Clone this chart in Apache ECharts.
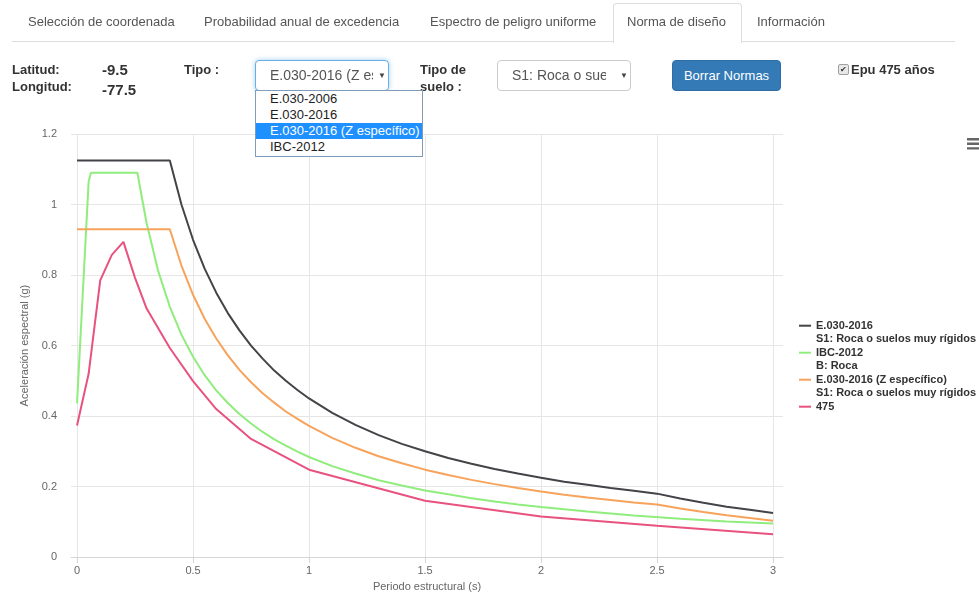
<!DOCTYPE html>
<html>
<head>
<meta charset="utf-8">
<script src="https://cdn.jsdelivr.net/npm/echarts@6/dist/echarts.min.js"></script>
<style>
  html, body { margin: 0; padding: 0; background: #fff; }
  body { width: 979px; height: 597px; position: relative; overflow: hidden;
         font-family: "Liberation Sans", Arial, sans-serif; color: #333; }
  #chart { position: absolute; left: 0; top: 0; width: 979px; height: 597px; }
  .a { position: absolute; white-space: nowrap; }
  .tabline { left: 12px; top: 41px; width: 943px; height: 0; border-top: 1px solid #ddd; }
  .tab { left: 613px; top: 3px; width: 127px; height: 39px; border: 1px solid #ddd; border-bottom: none;
         border-radius: 4px 4px 0 0; background: #fff; }
  .tt { top: 13px; line-height: 18px; font-size: 13px; color: #555; }
  .lb { font-size: 13px; font-weight: bold; line-height: 16px; color: #333; }
  .num { font-size: 15px; font-weight: bold; line-height: 18px; color: #333; }
  .sel { box-sizing: border-box; height: 31px; width: 134px; top: 60px; border: 1px solid #ccc; border-radius: 4px;
         background: #fff; font-size: 14px; color: #555; line-height: 29px; overflow: hidden; }
  .sel .txt { position: absolute; top: 0; overflow: hidden; white-space: nowrap; }
  .sel .arr { position: absolute; top: 0; font-size: 8px; color: #444; }
  .focus { border-color: #66afe9; box-shadow: 0 0 5px rgba(102,175,233,.6); }
  .btn { box-sizing: border-box; left: 672px; top: 60px; width: 109px; height: 31px; background: #337ab7;
         border: 1px solid #2e6da4; border-radius: 4px; color: #fff; font-size: 13px; line-height: 29px; text-align: center; }
  .chk { left: 838px; top: 64px; width: 9px; height: 9px; border: 1px solid #a0a0a0; background: #e8e8e8;
         border-radius: 2px; font-size: 8px; line-height: 9px; text-align: center; color: #333; }
  .dd { box-sizing: border-box; left: 255px; top: 90px; width: 168px; height: 67px; border: 1px solid #7f9db9;
        background: #fff; z-index: 10; }
  .dd div { height: 16px; line-height: 16px; font-size: 13px; color: #222; padding-left: 14px; white-space: nowrap; }
  .dd .hi { background: #1e90ff; color: #fff; }
</style>
</head>
<body>
<div id="chart"></div>

<div class="a tabline"></div>
<div class="a tab"></div>
<span class="a tt" style="left:28px">Selección de coordenada</span>
<span class="a tt" style="left:204px">Probabilidad anual de excedencia</span>
<span class="a tt" style="left:430px">Espectro de peligro uniforme</span>
<span class="a tt" style="left:627px">Norma de diseño</span>
<span class="a tt" style="left:757px">Información</span>

<span class="a lb" style="left:12px;top:62px">Latitud:</span>
<span class="a lb" style="left:12px;top:79px">Longitud:</span>
<span class="a num" style="left:102px;top:61px">-9.5</span>
<span class="a num" style="left:102px;top:81px">-77.5</span>
<span class="a lb" style="left:184px;top:62px">Tipo :</span>

<div class="a sel focus" style="left:255px">
  <span class="txt" style="left:14px;width:103px">E.030-2016 (Z específico)</span>
  <span class="arr" style="left:122px">&#9660;</span>
</div>

<span class="a lb" style="left:420px;top:62px">Tipo de</span>
<span class="a lb" style="left:420px;top:79px">suelo :</span>

<div class="a sel" style="left:497px">
  <span class="txt" style="left:14px;width:94px">S1: Roca o suelos muy rígidos</span>
  <span class="arr" style="left:122px">&#9660;</span>
</div>

<div class="a btn">Borrar Normas</div>

<div class="a chk">&#10004;</div>
<span class="a lb" style="left:851px;top:62px">Epu 475 años</span>

<div class="a dd">
  <div>E.030-2006</div>
  <div>E.030-2016</div>
  <div class="hi">E.030-2016 (Z específico)</div>
  <div>IBC-2012</div>
</div>

<script>
// ---- data ----
const xTicks = [0, 0.5, 1, 1.5, 2, 2.5, 3];

const seriesNames = ['E.030-2016', 'IBC-2012', 'E.030-2016 (Z específico)', '475'];
const soilLabels = {
  'E.030-2016': 'S1: Roca o suelos muy rígidos',
  'IBC-2012': 'B: Roca',
  'E.030-2016 (Z específico)': 'S1: Roca o suelos muy rígidos'
};
const seriesColors = ['#434348', '#90ed7d', '#f7a35c', '#e8527f'];

const periodsE030 = [0, 0.4, 0.45, 0.5, 0.55, 0.6, 0.65, 0.7, 0.75, 0.8, 0.85, 0.9, 0.95, 1.0,
  1.1, 1.2, 1.3, 1.4, 1.5, 1.6, 1.7, 1.8, 1.9, 2.0, 2.1, 2.2, 2.3, 2.4, 2.5, 2.6, 2.7, 2.8, 2.9, 3.0];
const saE030 = [1.125, 1.125, 1.0, 0.9, 0.818, 0.75, 0.692, 0.643, 0.6, 0.563, 0.529, 0.5, 0.474, 0.45,
  0.409, 0.375, 0.346, 0.321, 0.3, 0.281, 0.265, 0.25, 0.237, 0.225, 0.214, 0.205, 0.196, 0.188, 0.18,
  0.166, 0.154, 0.143, 0.134, 0.125];
const saE030Z = [0.93, 0.93, 0.827, 0.744, 0.676, 0.62, 0.572, 0.531, 0.496, 0.465, 0.438, 0.413, 0.392, 0.372,
  0.338, 0.31, 0.286, 0.266, 0.248, 0.233, 0.219, 0.207, 0.196, 0.186, 0.177, 0.169, 0.162, 0.155, 0.149,
  0.138, 0.128, 0.119, 0.111, 0.103];

const periodsIBC = [0, 0.05, 0.06, 0.26, 0.3, 0.35, 0.4, 0.45, 0.5, 0.55, 0.6, 0.65, 0.7, 0.75, 0.8, 0.85,
  0.9, 0.95, 1.0, 1.1, 1.2, 1.3, 1.4, 1.5, 1.6, 1.7, 1.8, 1.9, 2.0, 2.2, 2.4, 2.6, 2.8, 3.0];
const saIBC = [0.436, 1.065, 1.09, 1.09, 0.947, 0.811, 0.71, 0.631, 0.568, 0.516, 0.473, 0.437, 0.406, 0.379,
  0.355, 0.334, 0.316, 0.299, 0.284, 0.258, 0.237, 0.218, 0.203, 0.189, 0.178, 0.167, 0.158, 0.149, 0.142,
  0.129, 0.118, 0.109, 0.101, 0.095];

const periodsUHS = [0, 0.05, 0.1, 0.15, 0.2, 0.25, 0.3, 0.4, 0.5, 0.6, 0.75, 1.0, 1.5, 2.0, 2.5, 3.0];
const saUHS = [0.373, 0.52, 0.785, 0.857, 0.894, 0.792, 0.705, 0.593, 0.499, 0.42, 0.335, 0.248, 0.16, 0.115, 0.089, 0.065];

// ---- build chart ----
function pairs(xs, ys) { return xs.map((x, i) => [x, ys[i]]); }
const seriesData = [
  pairs(periodsE030, saE030),
  pairs(periodsIBC, saIBC),
  pairs(periodsE030, saE030Z),
  pairs(periodsUHS, saUHS)
];

const chart = echarts.init(document.getElementById('chart'), null, { renderer: 'canvas' });
const font = '"Liberation Sans", Arial, sans-serif';

chart.setOption({
  animation: false,
  textStyle: { fontFamily: font },
  grid: { left: 71, right: 196, top: 134, bottom: 36, containLabel: false },
  xAxis: {
    type: 'value', min: -0.026, max: 3.043,
    axisLine: { show: true, lineStyle: { color: '#d6d6d6', width: 1 } },
    axisTick: { show: true, length: 6, customValues: xTicks, lineStyle: { color: '#d6d6d6' } },
    axisLabel: { customValues: xTicks, color: '#666', fontSize: 11, margin: 8, fontFamily: font },
    splitLine: { show: true, lineStyle: { color: '#e6e6e6', width: 1 } },
    name: 'Periodo estructural (s)', nameLocation: 'middle', nameGap: 23,
    nameTextStyle: { color: '#666', fontSize: 11, fontFamily: font }
  },
  yAxis: {
    type: 'value', min: 0, max: 1.2, interval: 0.2,
    axisLine: { show: false }, axisTick: { show: false },
    axisLabel: { color: '#666', fontSize: 11, margin: 14, fontFamily: font },
    splitLine: { show: true, lineStyle: { color: '#e6e6e6', width: 1 } },
    name: 'Aceleración espectral (g)', nameLocation: 'middle', nameGap: 33,
    nameTextStyle: { color: '#666', fontSize: 11, fontFamily: font }
  },
  legend: {
    orient: 'vertical', left: 799, top: 319, padding: 0,
    itemWidth: 12, itemHeight: 27, itemGap: 0,
    icon: 'path://M0,5.7L12,5.7L12,7.7L0,7.7Z M0,0 M12,27',
    symbolKeepAspect: false,
    itemStyle: { borderWidth: 0 },
    textStyle: { color: '#333', fontSize: 11, fontWeight: 'bold', lineHeight: 13.4, fontFamily: font },
    formatter: name => name + '\n' + (soilLabels[name] || ' '),
    data: seriesNames
  },
  toolbox: {
    show: true, left: 967, top: 138, padding: 0, itemSize: 12,
    iconStyle: { color: '#666', borderWidth: 0 },
    emphasis: { iconStyle: { color: '#333', borderWidth: 0 } },
    feature: {
      myMenu: {
        show: true, title: ' ',
        icon: 'path://M0,0H12V2.4H0Z M0,4.6H12V7H0Z M0,9.2H12V11.6H0Z',
        onclick: function () {}
      }
    }
  },
  series: seriesNames.map((n, i) => ({
    name: n, type: 'line', data: seriesData[i], showSymbol: false, symbol: 'none',
    color: seriesColors[i],
    lineStyle: { color: seriesColors[i], width: 2 },
    z: 2
  }))
});
</script>
</body>
</html>
